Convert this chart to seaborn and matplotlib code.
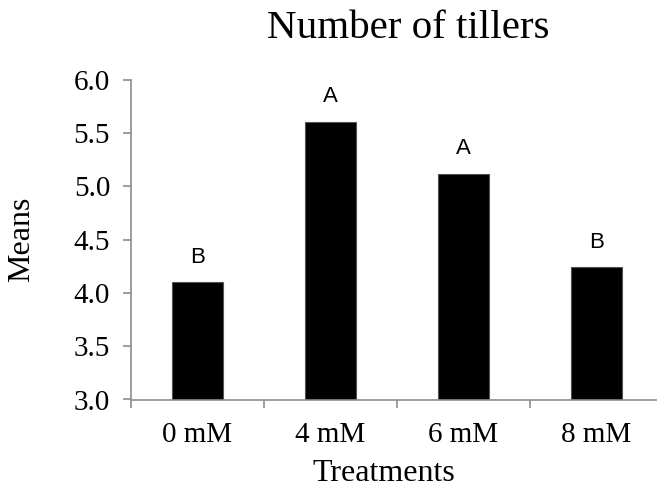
import matplotlib
matplotlib.use("Agg")
import matplotlib.pyplot as plt
import seaborn as sns
import pandas as pd
import numpy as np
from matplotlib.ticker import FixedLocator

categories = ["0 mM", "4 mM", "6 mM", "8 mM"]
means = [4.10, 5.61, 5.12, 4.24]
letters = ["B", "A", "A", "B"]
yticks = [3.0, 3.5, 4.0, 4.5, 5.0, 5.5, 6.0]

sns.set_theme(style="white")
plt.rcParams['font.family'] = ['Liberation Serif', 'DejaVu Serif']

df = pd.DataFrame({"Treatments": categories, "Means": means})

W, H = 657, 490
fig = plt.figure(figsize=(W / 100, H / 100), dpi=100)
left, right, top, bottom = 131, 131 + 532, 80, 399.5
ax = fig.add_axes([left / W, (H - bottom) / H, (right - left) / W, (bottom - top) / H])
aw, ah = right - left, bottom - top

sns.barplot(data=df, x="Treatments", y="Means", color="black", width=0.39,
            edgecolor="#555555", linewidth=0.8, saturation=1, ax=ax)

ax.set_ylim(3.0, 6.0)
ax.set_xlim(-0.5, len(categories) - 0.5)
ax.set_yticks(yticks)
ax.set_yticklabels([f"{v:.1f}" for v in yticks], fontsize=21)
ax.set_xticks(range(len(categories)))
ax.set_xticklabels(categories, fontsize=21)
ax.xaxis.set_minor_locator(FixedLocator(np.arange(-0.5, len(categories), 1.0)))

spine_c = "#8c8c8c"
for s in ["top", "right"]:
    ax.spines[s].set_visible(False)
for s in ["left", "bottom"]:
    ax.spines[s].set_color(spine_c)
    ax.spines[s].set_linewidth(1.2)

ax.tick_params(axis="y", which="major", direction="out", length=6, width=1.2,
               color=spine_c, pad=9, left=True, labelcolor="black")
ax.tick_params(axis="x", which="major", length=0, pad=16, labelcolor="black")
ax.tick_params(axis="x", which="minor", direction="out", length=6, width=1.2,
               color=spine_c, bottom=True)

ax.set_xlabel("Treatments", fontsize=23, color="black")
ax.set_ylabel("Means", fontsize=23, color="black")
ax.xaxis.set_label_coords((384 - left) / aw, -(459 - bottom) / ah)
ax.yaxis.set_label_coords((36 - left) / aw, 0.5)

for i, (v, t) in enumerate(zip(means, letters)):
    ax.annotate(t, xy=(i, v), xytext=(0, 10.5), textcoords="offset points",
                ha="center", va="bottom", fontsize=16, color="black",
                family=["Liberation Sans", "DejaVu Sans"])

fig.text(408 / W, 1 - 38 / H, "Number of tillers", ha="center", va="baseline",
         fontsize=29.5, color="black")

fig.savefig("out.png", dpi=100, facecolor="white")
